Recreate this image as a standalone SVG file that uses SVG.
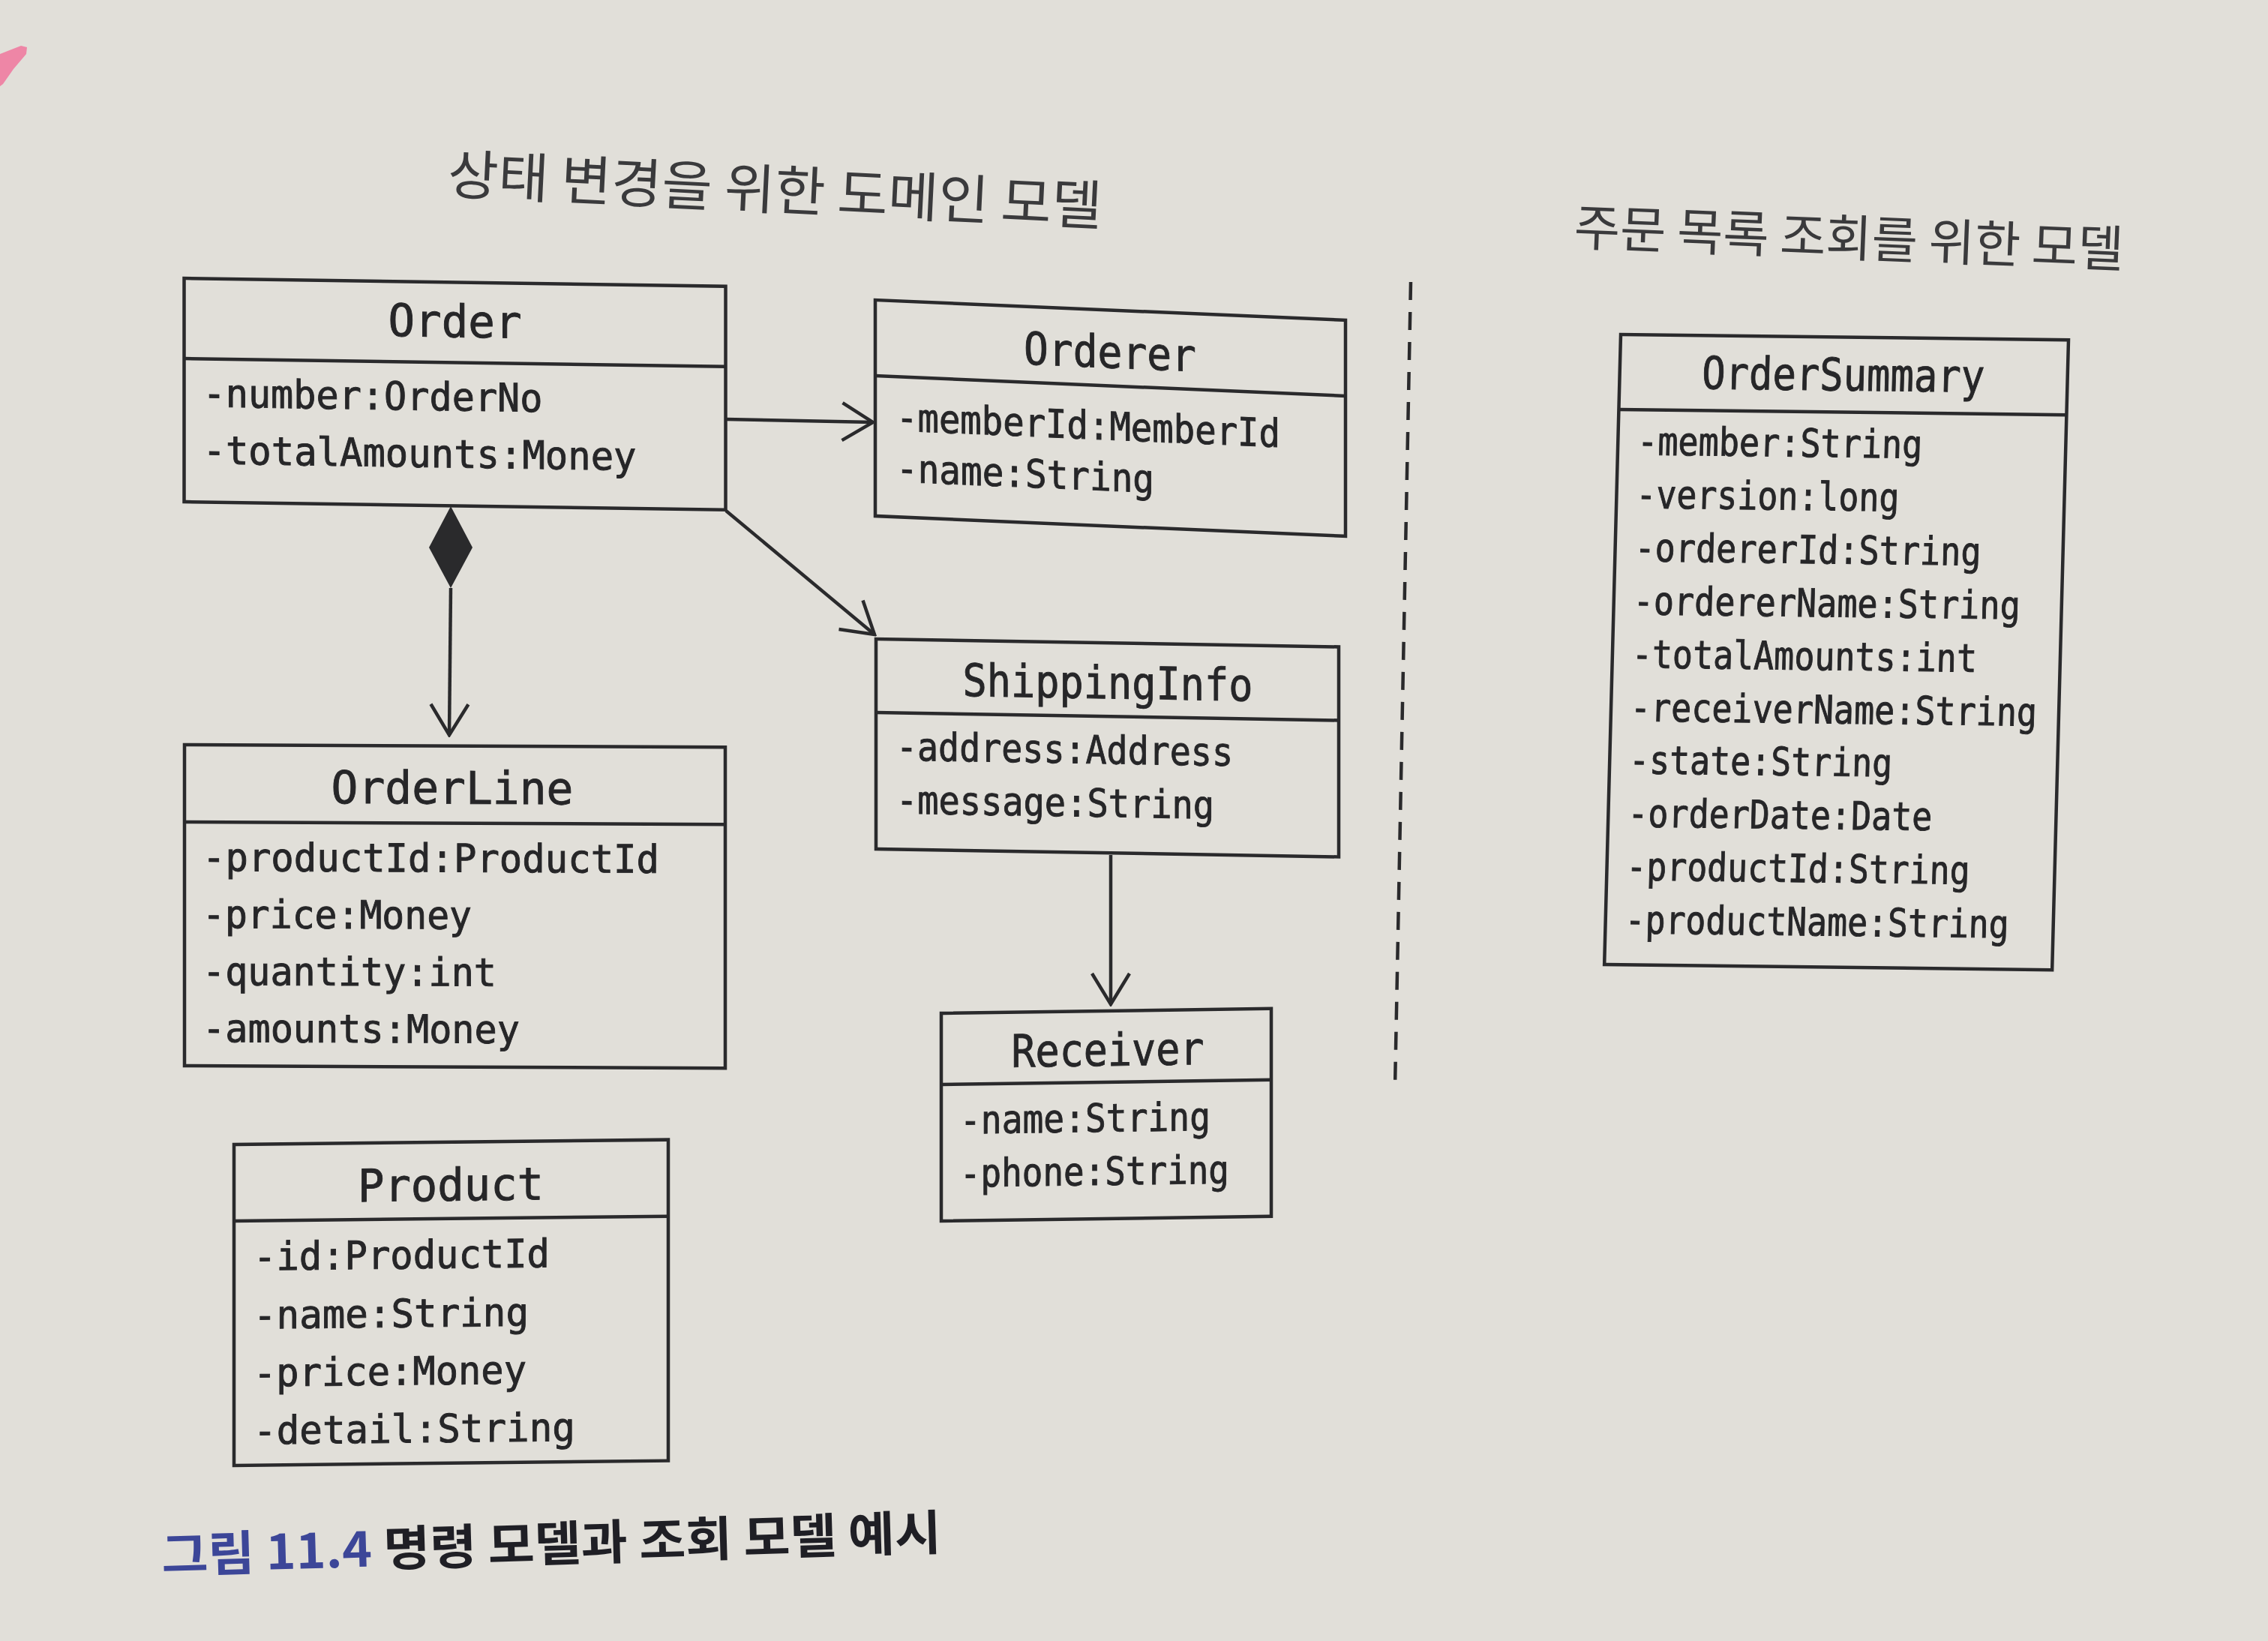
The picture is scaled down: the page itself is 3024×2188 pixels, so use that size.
<svg xmlns="http://www.w3.org/2000/svg" width="3024" height="2188" viewBox="0 0 3024 2188">
<defs>
<style>
.bg{fill:#e1dfd9}
.box{fill:none;stroke:#2a2a2c;stroke-width:4.5}
.t{font-family:"DejaVu Sans Mono","Liberation Mono",monospace;font-size:60px;fill:#262628;stroke:#262628;stroke-width:0.9;text-anchor:middle}
.a{font-family:"DejaVu Sans Mono","Liberation Mono",monospace;font-size:52px;fill:#262628;stroke:#262628;stroke-width:0.9}
.ko{font-family:"Noto Sans CJK KR","Noto Sans",sans-serif;fill:#3a3a3c}
.conn{fill:none;stroke:#2a2a2c;stroke-width:4.5}
</style>
<marker id="open" viewBox="0 0 46 56" refX="43" refY="28" markerWidth="46" markerHeight="56" markerUnits="userSpaceOnUse" orient="auto">
<path d="M2,3 L43,28 L2,53" fill="none" stroke="#2a2a2c" stroke-width="4.5"/>
</marker>
</defs>
<rect class="bg" x="0" y="0" width="3024" height="2188"/>
<polygon points="0,72 28,61 36,63 35,72 18,92 4,112 0,115" fill="#ee86a6"/>

<text class="ko" x="596" y="258" font-size="72" textLength="873" lengthAdjust="spacingAndGlyphs" transform="rotate(2.8 596 258)">상태 변경을 위한 도메인 모델</text>
<text class="ko" x="2098" y="327" font-size="67" textLength="733" lengthAdjust="spacingAndGlyphs" transform="rotate(2.3 2098 327)">주문 목록 조회를 위한 모델</text>

<g id="connectors">
<line class="conn" x1="968" y1="559" x2="1164" y2="563" marker-end="url(#open)"/>
<line class="conn" x1="968" y1="681" x2="1166" y2="846" marker-end="url(#open)"/>
<polygon points="601,675 630,730 601,784 572,730" fill="#2a2a2c"/>
<line class="conn" x1="601" y1="784" x2="599" y2="980" marker-end="url(#open)"/>
<line class="conn" x1="1481" y1="1140" x2="1481" y2="1339" marker-end="url(#open)"/>
</g>

<line x1="1881" y1="376" x2="1860" y2="1450" stroke="#2a2a2c" stroke-width="4.5" stroke-dasharray="24 16"/>

<g id="order" transform="matrix(1 0.015 0 1 245.5 371)">
<rect class="box" x="0" y="0" width="722" height="298"/>
<line class="box" x1="0" y1="107" x2="722" y2="107"/>
<text class="t" x="361" y="73" textLength="178" lengthAdjust="spacingAndGlyphs">Order</text>
<text class="a" x="25" y="171" textLength="453" lengthAdjust="spacingAndGlyphs">-number:OrderNo</text>
<text class="a" x="25" y="247" textLength="578" lengthAdjust="spacingAndGlyphs">-totalAmounts:Money</text>
</g>

<g id="orderer" transform="matrix(1 0.043 0 1 1167 400)">
<rect class="box" x="0" y="0" width="627" height="288"/>
<line class="box" x1="0" y1="101" x2="627" y2="101"/>
<text class="t" x="313" y="77" textLength="230" lengthAdjust="spacingAndGlyphs">Orderer</text>
<text class="a" x="28" y="173" textLength="512" lengthAdjust="spacingAndGlyphs">-memberId:MemberId</text>
<text class="a" x="28" y="241" textLength="344" lengthAdjust="spacingAndGlyphs">-name:String</text>
</g>

<g id="shippinginfo" transform="matrix(1 0.017 0 1 1168 852)">
<rect class="box" x="0" y="0" width="617" height="280"/>
<line class="box" x1="0" y1="98" x2="617" y2="98"/>
<text class="t" x="309" y="74" textLength="387" lengthAdjust="spacingAndGlyphs">ShippingInfo</text>
<text class="a" x="27" y="161" textLength="449" lengthAdjust="spacingAndGlyphs">-address:Address</text>
<text class="a" x="27" y="232" textLength="424" lengthAdjust="spacingAndGlyphs">-message:String</text>
</g>

<g id="orderline" transform="matrix(1 0.0045 0 1 246 993)">
<rect class="box" x="0" y="0" width="721" height="428"/>
<line class="box" x1="0" y1="103" x2="721" y2="103"/>
<text class="t" x="357" y="77" textLength="323" lengthAdjust="spacingAndGlyphs">OrderLine</text>
<text class="a" x="24" y="168" textLength="609" lengthAdjust="spacingAndGlyphs">-productId:ProductId</text>
<text class="a" x="24" y="244" textLength="359" lengthAdjust="spacingAndGlyphs">-price:Money</text>
<text class="a" x="24" y="320" textLength="392" lengthAdjust="spacingAndGlyphs">-quantity:int</text>
<text class="a" x="24" y="396" textLength="423" lengthAdjust="spacingAndGlyphs">-amounts:Money</text>
</g>

<g id="receiver" transform="matrix(1 -0.014 0 1 1255 1351)">
<rect class="box" x="0" y="0" width="440" height="277"/>
<line class="box" x1="0" y1="95" x2="440" y2="95"/>
<text class="t" x="222" y="73" textLength="257" lengthAdjust="spacingAndGlyphs">Receiver</text>
<text class="a" x="25" y="161" textLength="334" lengthAdjust="spacingAndGlyphs">-name:String</text>
<text class="a" x="25" y="232" textLength="359" lengthAdjust="spacingAndGlyphs">-phone:String</text>
</g>

<g id="product" transform="matrix(1 -0.011 0 1 312 1526)">
<rect class="box" x="0" y="0" width="579" height="428"/>
<line class="box" x1="0" y1="102" x2="579" y2="102"/>
<text class="t" x="289" y="78" textLength="248" lengthAdjust="spacingAndGlyphs">Product</text>
<text class="a" x="26" y="168" textLength="395" lengthAdjust="spacingAndGlyphs">-id:ProductId</text>
<text class="a" x="26" y="246" textLength="367" lengthAdjust="spacingAndGlyphs">-name:String</text>
<text class="a" x="26" y="323" textLength="364" lengthAdjust="spacingAndGlyphs">-price:Money</text>
<text class="a" x="26" y="400" textLength="429" lengthAdjust="spacingAndGlyphs">-detail:String</text>
</g>

<g id="ordersummary" transform="matrix(1 0.012 -0.026 1 2161 446)">
<rect class="box" x="0" y="0" width="597" height="840"/>
<line class="box" x1="0" y1="100" x2="597" y2="100"/>
<text class="t" x="298" y="71" textLength="377" lengthAdjust="spacingAndGlyphs">OrderSummary</text>
<text class="a" x="26" y="160" textLength="380" lengthAdjust="spacingAndGlyphs">-member:String</text>
<text class="a" x="26" y="231" textLength="351" lengthAdjust="spacingAndGlyphs">-version:long</text>
<text class="a" x="26" y="302" textLength="462" lengthAdjust="spacingAndGlyphs">-ordererId:String</text>
<text class="a" x="26" y="373" textLength="516" lengthAdjust="spacingAndGlyphs">-ordererName:String</text>
<text class="a" x="26" y="444" textLength="460" lengthAdjust="spacingAndGlyphs">-totalAmounts:int</text>
<text class="a" x="26" y="515" textLength="542" lengthAdjust="spacingAndGlyphs">-receiverName:String</text>
<text class="a" x="26" y="585" textLength="351" lengthAdjust="spacingAndGlyphs">-state:String</text>
<text class="a" x="26" y="656" textLength="406" lengthAdjust="spacingAndGlyphs">-orderDate:Date</text>
<text class="a" x="26" y="727" textLength="458" lengthAdjust="spacingAndGlyphs">-productId:String</text>
<text class="a" x="26" y="798" textLength="512" lengthAdjust="spacingAndGlyphs">-productName:String</text>
</g>

<text class="ko" x="216" y="2097" font-size="64" font-weight="700" textLength="1040" lengthAdjust="spacingAndGlyphs" transform="rotate(-1.7 216 2097)"><tspan fill="#3c4698">그림 11.4</tspan><tspan fill="#1f1f25"> 명령 모델과 조회 모델 예시</tspan></text>
</svg>
